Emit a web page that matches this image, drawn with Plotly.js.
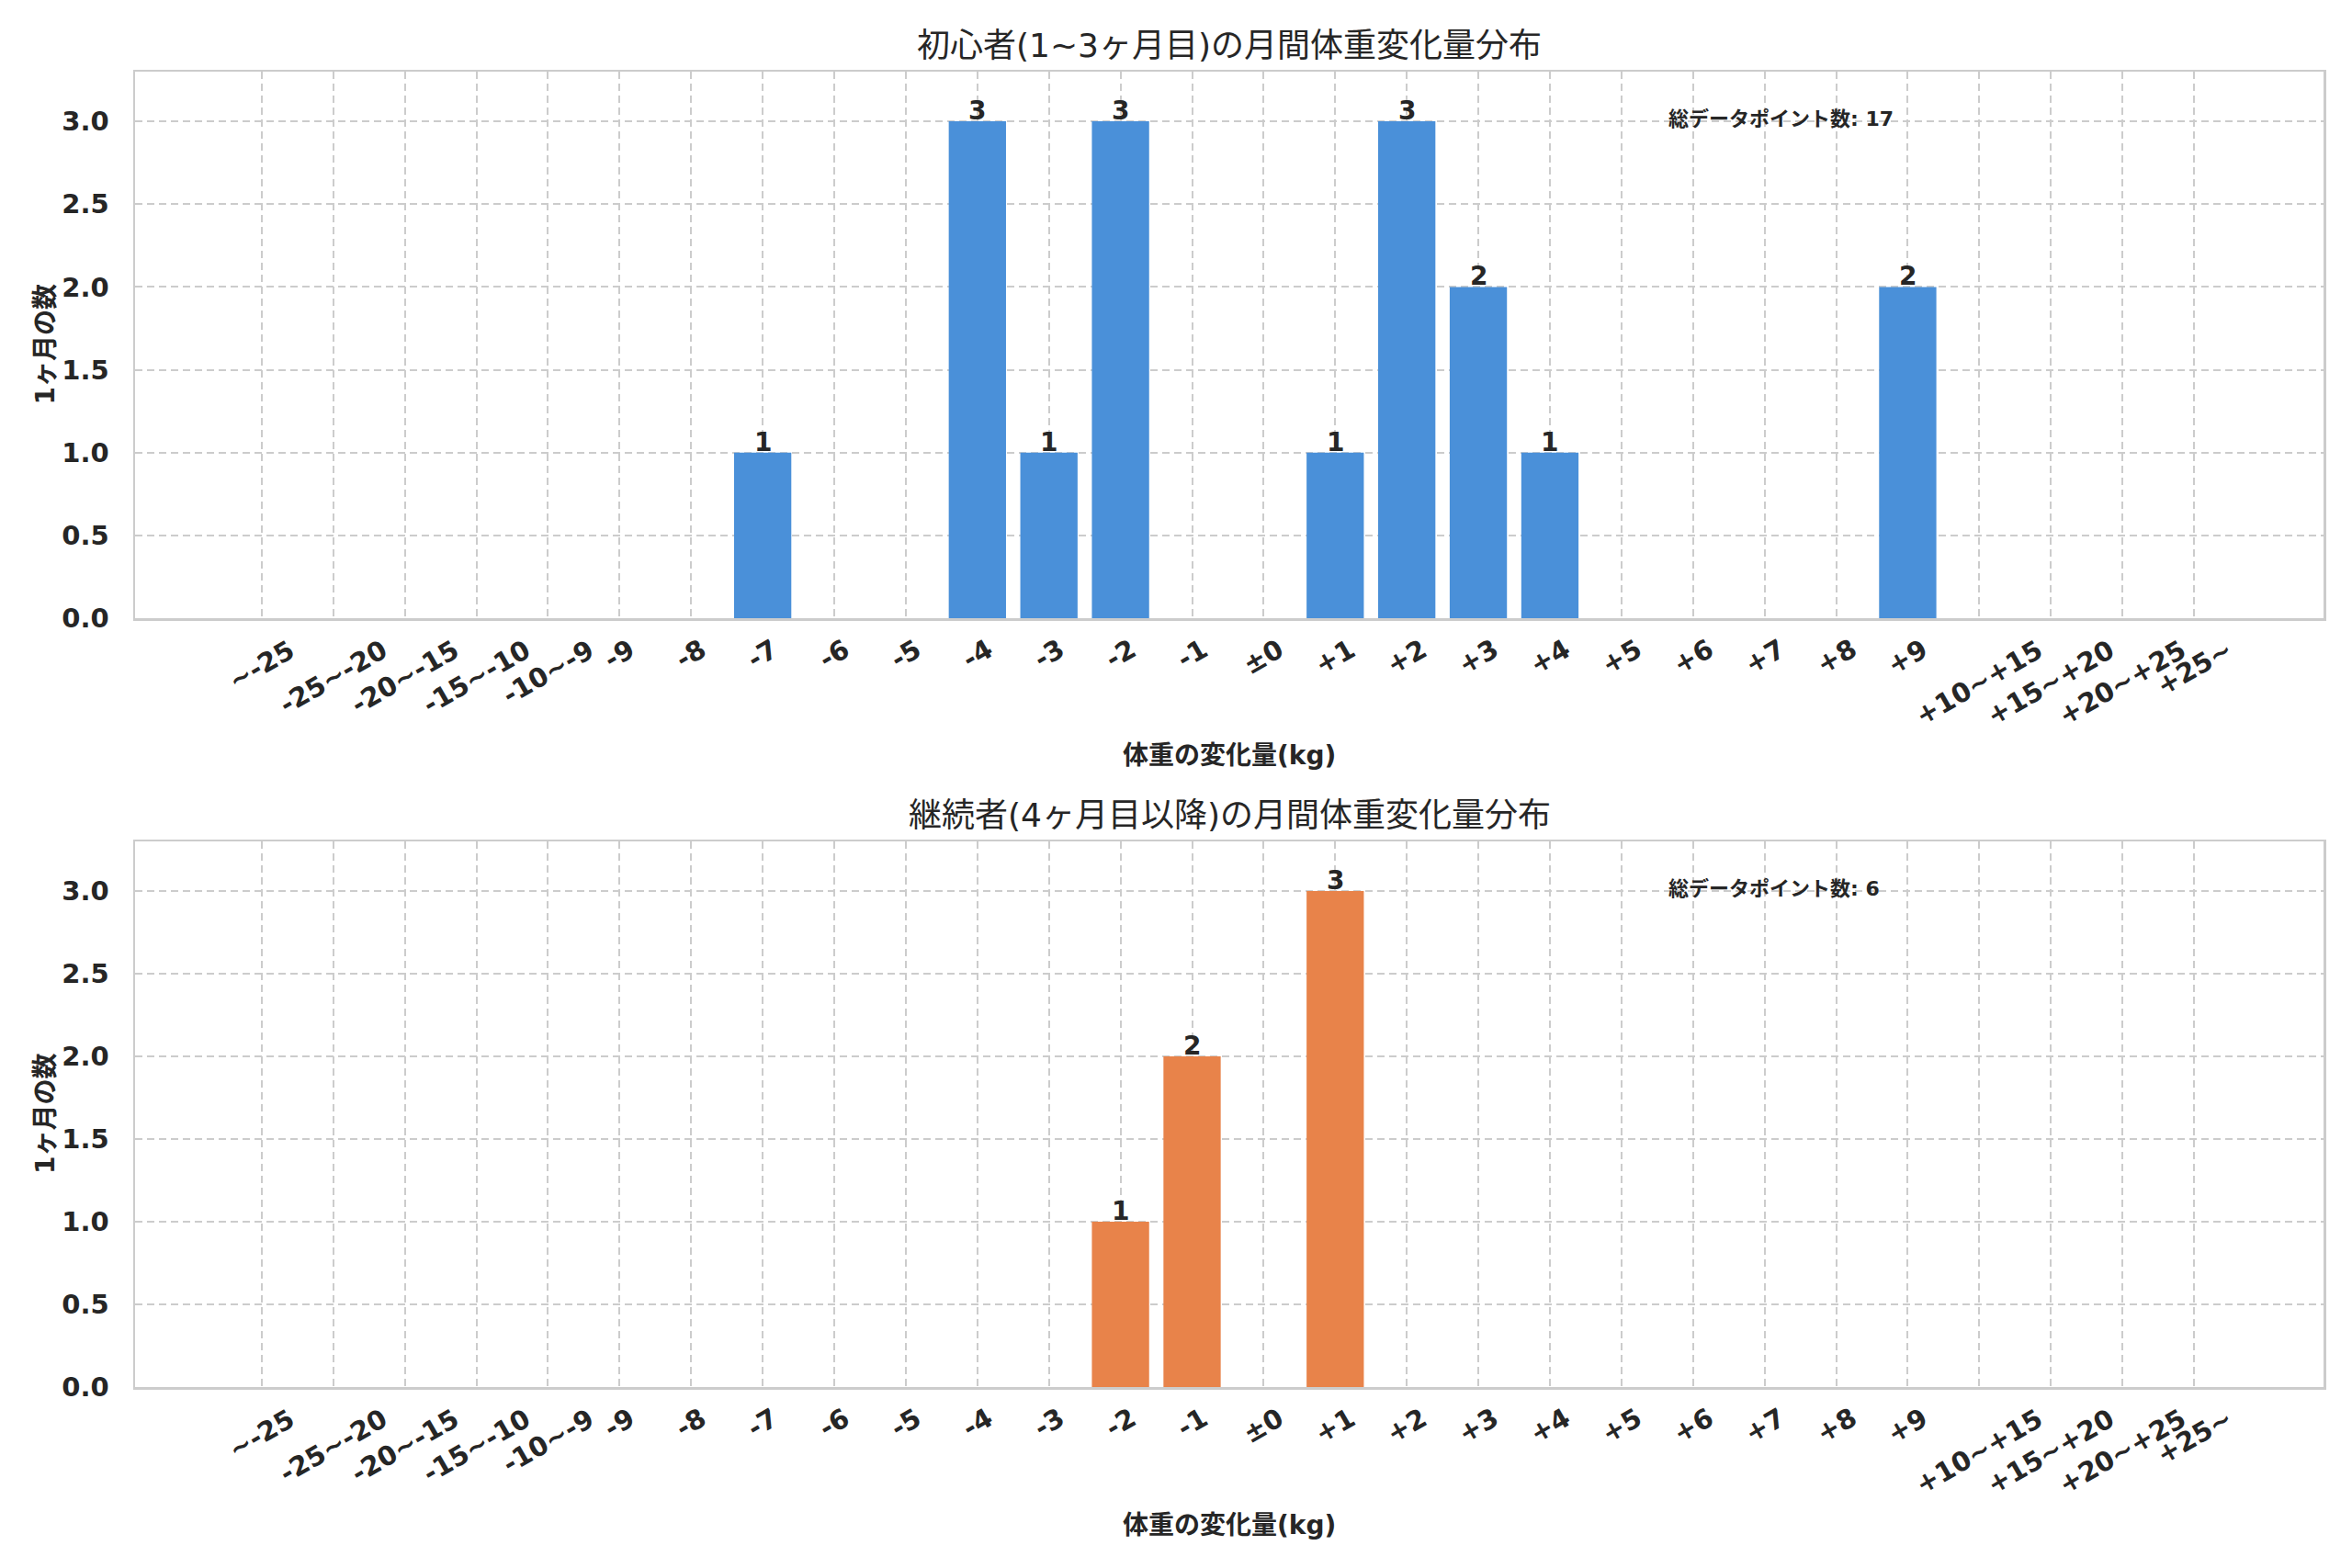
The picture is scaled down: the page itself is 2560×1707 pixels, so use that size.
<!DOCTYPE html>
<html>
<head>
<meta charset="utf-8">
<script src="https://cdn.plot.ly/plotly-3.0.1.min.js"></script>
<style>
  html, body { margin: 0; padding: 0; background: #fff; }
  #chart { width: 2560px; height: 1707px; }
</style>
</head>
<body>
<div id="chart"></div>
<script>
// categories of weight change (kg)
const categories = [
  "~-25", "-25~-20", "-20~-15", "-15~-10", "-10~-9",
  "-9", "-8", "-7", "-6", "-5", "-4", "-3", "-2", "-1",
  "±0",
  "+1", "+2", "+3", "+4", "+5", "+6", "+7", "+8", "+9",
  "+10~+15", "+15~+20", "+20~+25", "+25~"
];

// counts
const earlyCounts = [0, 0, 0, 0, 0, 0, 0, 1, 0, 0, 3, 1, 3, 0, 0, 1, 3, 2, 1, 0, 0, 0, 0, 2, 0, 0, 0, 0];
const laterCounts = [0, 0, 0, 0, 0, 0, 0, 0, 0, 0, 0, 0, 1, 2, 0, 3, 0, 0, 0, 0, 0, 0, 0, 0, 0, 0, 0, 0];

const titles = [
  "初心者(1~3ヶ月目)の月間体重変化量分布",
  "継続者(4ヶ月目以降)の月間体重変化量分布"
];
const xLabel = "体重の変化量(kg)";
const yLabel = "1ヶ月の数";
const countLabel = "総データポイント数";
const yTicks = [0, 0.5, 1, 1.5, 2, 2.5, 3];

const W = 2560, H = 1707;
const FONT = "DejaVu Sans, Noto Sans CJK JP, sans-serif";
const INK = "#262626";
const GRID = "#cccccc";

// panel boxes in pixels (top, bottom)
const panels = [
  { top: 78, bottom: 673, color: "#4a90d9", counts: earlyCounts },
  { top: 916, bottom: 1510, color: "#e8834a", counts: laterCounts }
];
const left = 147, right = 2529;
const px = x => x / W;
const py = y => 1 - y / H;

const traces = [];
const annotations = [];
const layout = {
  width: W, height: H,
  margin: { l: 0, r: 0, t: 0, b: 0 },
  paper_bgcolor: "#fff",
  plot_bgcolor: "#fff",
  showlegend: false,
  bargap: 0.2,
  font: { family: FONT, color: INK, size: 28 }
};

panels.forEach((p, i) => {
  const xa = i === 0 ? "x" : "x2";
  const ya = i === 0 ? "y" : "y2";

  traces.push({
    type: "bar",
    x: categories,
    y: p.counts,
    xaxis: xa, yaxis: ya,
    marker: { color: p.color, line: { width: 0 } },
    hoverinfo: "skip"
  });

  layout[i === 0 ? "xaxis" : "xaxis2"] = {
    type: "category",
    domain: [px(left), px(right)],
    anchor: ya,
    range: [-1.77, 28.81],
    showticklabels: false,
    ticks: "",
    showgrid: true,
    gridcolor: GRID,
    gridwidth: 2,
    griddash: "8px,5px",
    showline: true, mirror: true,
    linecolor: GRID, linewidth: 2.5,
    zeroline: false,
    fixedrange: true
  };
  layout[i === 0 ? "yaxis" : "yaxis2"] = {
    domain: [py(p.bottom), py(p.top)],
    anchor: xa,
    range: [0, 3.3],
    tickvals: yTicks,
    tickformat: ".1f",
    ticks: "",
    ticklabelstandoff: 20,
    tickfont: { family: FONT, size: 29, color: INK, weight: "bold" },
    showgrid: true,
    gridcolor: GRID,
    gridwidth: 2,
    griddash: "8px,5px",
    showline: true, mirror: true,
    linecolor: GRID, linewidth: 2.5,
    zeroline: false,
    fixedrange: true
  };

  // rotated category labels, centred under each tick like the original
  categories.forEach((c, k) => {
    annotations.push({
      xref: xa, yref: "paper",
      x: k, y: py(p.bottom),
      text: c,
      showarrow: false,
      textangle: -30,
      xanchor: "center", yanchor: "top",
      yshift: -14,
      font: { family: FONT, size: 29, color: INK, weight: "bold" }
    });
  });

  // value labels sitting on top of each bar
  p.counts.forEach((v, k) => {
    if (v <= 0) return;
    annotations.push({
      xref: xa, yref: ya,
      x: k, y: v,
      text: String(v),
      showarrow: false,
      xanchor: "center", yanchor: "bottom",
      yshift: -7,
      font: { family: FONT, size: 28, color: INK, weight: "bold" }
    });
  });

  // panel title
  annotations.push({
    xref: "paper", yref: "paper",
    x: px((left + right) / 2), y: py(p.top - 29),
    text: titles[i], showarrow: false,
    xanchor: "center", yanchor: "middle",
    font: { family: FONT, size: 36, color: INK }
  });
  // x title
  annotations.push({
    xref: "paper", yref: "paper",
    x: px((left + right) / 2), y: py(p.bottom + 150),
    text: xLabel, showarrow: false,
    xanchor: "center", yanchor: "middle",
    font: { family: FONT, size: 28, color: INK, weight: "bold" }
  });
  // y title
  annotations.push({
    xref: "paper", yref: "paper",
    x: px(49), y: py((p.top + p.bottom) / 2),
    text: yLabel, showarrow: false, textangle: -90,
    xanchor: "center", yanchor: "middle",
    font: { family: FONT, size: 28, color: INK, weight: "bold" }
  });
  // total count box
  const total = p.counts.reduce((a, b) => a + b, 0);
  annotations.push({
    xref: "paper", yref: "paper",
    x: px(1814), y: py(p.top + 51),
    text: countLabel + ": " + total, showarrow: false,
    xanchor: "left", yanchor: "middle",
    font: { family: FONT, size: 22, color: INK, weight: "bold" }
  });
});

layout.annotations = annotations;

Plotly.newPlot("chart", traces, layout, { displayModeBar: false, staticPlot: true });
</script>
</body>
</html>
